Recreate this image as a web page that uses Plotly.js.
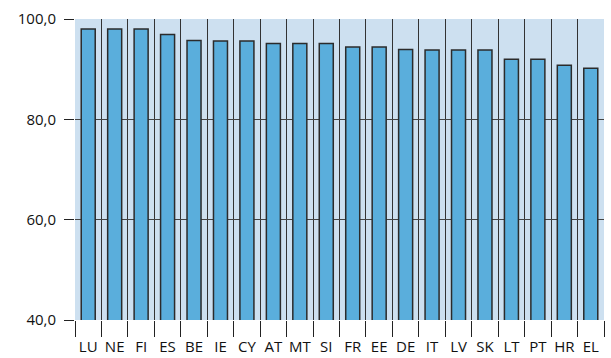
<!DOCTYPE html>
<html>
<head>
<meta charset="utf-8">
<script src="https://cdn.plot.ly/plotly-3.0.1.min.js"></script>
<style>html,body{margin:0;padding:0;background:#fff;}#chart{width:611px;height:358px;}</style>
</head>
<body>
<div id="chart"></div>
<script>
const categories = ["LU","NE","FI","ES","BE","IE","CY","AT","MT","SI","FR","EE","DE","IT","LV","SK","LT","PT","HR","EL"];
const values = [98.0,98.0,98.0,96.9,95.7,95.6,95.6,95.1,95.1,95.1,94.4,94.4,93.9,93.8,93.8,93.8,92.0,92.0,90.8,90.2];
const yTickVals = [40,60,80,100];
const yTickText = ["40,0","60,0","80,0","100,0"];

Plotly.newPlot("chart", [{
  type: "bar",
  x: categories,
  y: values,
  marker: {color: "#5aaedc", line: {color: "#2b2b2b", width: 1.5}},
  hoverinfo: "none"
}], {
  width: 611, height: 358,
  margin: {l: 75, r: 7, t: 19, b: 38},
  paper_bgcolor: "#ffffff",
  plot_bgcolor: "#cde0f0",
  bargap: 0.47,
  showlegend: false,
  font: {family: "Open Sans, sans-serif", color: "#111", size: 14},
  xaxis: {
    type: "category",
    tickson: "boundaries",
    tickangle: 0,
    showgrid: true, gridcolor: "#333", gridwidth: 1,
    ticks: "outside", ticklen: 16, tickcolor: "#222", tickwidth: 1,
    ticklabelstandoff: 16,
    showline: false, zeroline: false,
    range: [-0.5, 19.5],
    tickfont: {size: 15, family: "Open Sans, sans-serif"}
  },
  yaxis: {
    range: [40, 100],
    tickvals: yTickVals,
    ticktext: yTickText,
    showgrid: true, gridcolor: "#444", gridwidth: 1.2,
    ticks: "outside", ticklen: 10, tickcolor: "#222", tickwidth: 1,
    ticklabelstandoff: 5,
    zeroline: false, showline: false,
    tickfont: {size: 15, family: "Open Sans, sans-serif"}
  }
}, {staticPlot: true});
</script>
</body>
</html>
